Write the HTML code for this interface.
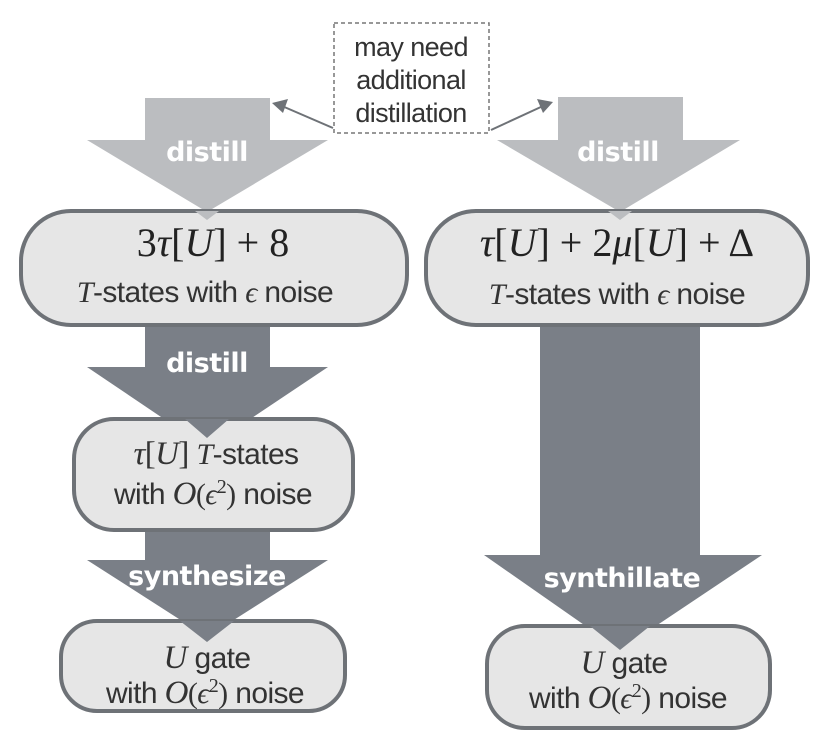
<!DOCTYPE html>
<html><head><meta charset="utf-8"><style>
html,body{margin:0;padding:0;background:#fff}
svg{display:block}
.lab{font-family:"DejaVu Sans","Liberation Sans",sans-serif;font-weight:bold;fill:#fff;font-size:27px;text-anchor:middle;letter-spacing:-0.5px}
.t{font-family:"Liberation Sans",sans-serif;font-size:27px;fill:#333;text-anchor:middle;letter-spacing:-0.6px}
.m{font-family:"Liberation Serif",serif;font-style:italic}
.mr{font-family:"Liberation Serif",serif}
</style></head><body>
<svg width="830" height="738" viewBox="0 0 830 738" xmlns="http://www.w3.org/2000/svg">
<polygon points="145,98 270,98 270,140 328,140 207,212 87,140 145,140" fill="#bbbdc0"/>
<polygon points="558,97 683,97 683,140 740,140 620,212 497,140 558,140" fill="#bbbdc0"/>
<text class="lab" x="207" y="161">distill</text>
<text class="lab" x="618" y="161">distill</text>
<rect x="334" y="23" width="155" height="110" fill="#fff" stroke="#777" stroke-width="1.5" stroke-dasharray="4,3"/>
<text class="t" x="411" y="56" style="font-size:27px">may need</text>
<text class="t" x="411" y="89" style="font-size:27px">additional</text>
<text class="t" x="411" y="122" style="font-size:27px">distillation</text>
<line x1="333" y1="128" x2="282" y2="106" stroke="#6e7277" stroke-width="2"/>
<polygon points="272,103 288,99 283,113" fill="#6e7277"/>
<line x1="491" y1="130" x2="543" y2="106" stroke="#6e7277" stroke-width="2"/>
<polygon points="553,102 537,99 543,113" fill="#6e7277"/>
<rect x="21" y="211" width="386" height="114" rx="50" fill="#e6e6e6" stroke="#6e7277" stroke-width="4"/>
<rect x="426" y="211" width="382" height="114" rx="50" fill="#e6e6e6" stroke="#6e7277" stroke-width="4"/>
<polygon points="195,211 219,211 207,220" fill="#bbbdc0"/>
<polygon points="608,211 632,211 620,220" fill="#bbbdc0"/>
<text class="t mr" x="213" y="256" style="font-size:40px;fill:#222;letter-spacing:0">3<tspan class="m">τ</tspan>[<tspan class="m">U</tspan>] + 8</text>
<text class="t" x="205" y="302" style="font-size:30px"><tspan class="m">T</tspan>-states with <tspan class="m">ϵ</tspan>  noise</text>
<text class="t mr" x="617" y="256" style="font-size:40px;fill:#222;letter-spacing:0"><tspan class="m">τ</tspan>[<tspan class="m">U</tspan>] + 2<tspan class="m">μ</tspan>[<tspan class="m">U</tspan>] + Δ</text>
<text class="t" x="617" y="304" style="font-size:30px"><tspan class="m">T</tspan>-states with <tspan class="m">ϵ</tspan>  noise</text>
<polygon points="145,327 270,327 270,367 328,367 207,448 87,367 145,367" fill="#7a7f87"/>
<text class="lab" x="207" y="372">distill</text>
<rect x="74" y="419" width="279" height="111" rx="40" fill="#e6e6e6" stroke="#6e7277" stroke-width="4"/>
<polygon points="185,419 229,419 207,438" fill="#7a7f87"/>
<text class="t" x="216" y="464" style="font-size:30px"><tspan class="m" style="font-size:33px">τ</tspan><tspan class="mr" style="font-size:33px">[</tspan><tspan class="m" style="font-size:33px">U</tspan><tspan class="mr" style="font-size:33px">]</tspan> <tspan class="m">T</tspan>-states</text>
<text class="t" x="213" y="504" style="font-size:30px">with <tspan class="m" style="font-size:33px">O</tspan><tspan class="mr">(</tspan><tspan class="m">ϵ</tspan><tspan class="mr" dy="-11" style="font-size:20px">2</tspan><tspan class="mr" dy="11">)</tspan> noise</text>
<polygon points="145,532 270,532 270,560 328,560 207,637 87,560 145,560" fill="#7a7f87"/>
<text class="lab" x="207" y="585">synthesize</text>
<rect x="61" y="621" width="284" height="90" rx="36" fill="#e6e6e6" stroke="#6e7277" stroke-width="4"/>
<polygon points="180,621 234,621 207,642" fill="#7a7f87"/>
<text class="t" x="207" y="668" style="font-size:30px"><tspan class="m" style="font-size:33px">U</tspan>  gate</text>
<text class="t" x="205" y="703" style="font-size:30px">with <tspan class="m" style="font-size:33px">O</tspan><tspan class="mr">(</tspan><tspan class="m">ϵ</tspan><tspan class="mr" dy="-11" style="font-size:20px">2</tspan><tspan class="mr" dy="11">)</tspan> noise</text>
<polygon points="540,327 700,327 700,555 762,555 620,650 484,555 540,555" fill="#7a7f87"/>
<text class="lab" x="622" y="587">synthillate</text>
<rect x="487" y="626" width="283" height="102" rx="38" fill="#e6e6e6" stroke="#6e7277" stroke-width="4"/>
<polygon points="590,626 650,626 620,650" fill="#7a7f87"/>
<text class="t" x="624" y="673" style="font-size:30px"><tspan class="m" style="font-size:33px">U</tspan> gate</text>
<text class="t" x="628" y="708" style="font-size:30px">with <tspan class="m" style="font-size:33px">O</tspan><tspan class="mr">(</tspan><tspan class="m">ϵ</tspan><tspan class="mr" dy="-11" style="font-size:20px">2</tspan><tspan class="mr" dy="11">)</tspan> noise</text>
</svg>
</body></html>
